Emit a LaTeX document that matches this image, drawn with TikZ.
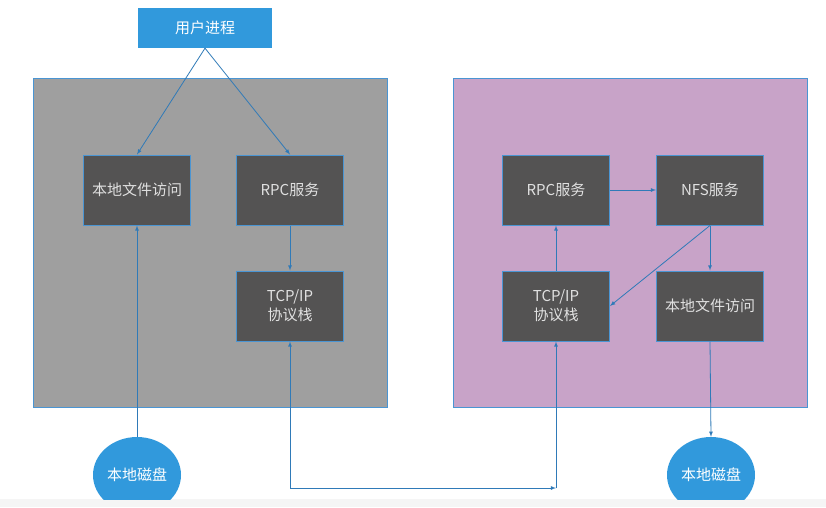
\documentclass[tikz,border=0pt]{standalone}
\usepackage{fontspec}
\setmainfont{Noto Sans CJK SC}
\usetikzlibrary{shapes.geometric}
\definecolor{procblue}{HTML}{3199DC}
\definecolor{panelgray}{HTML}{9F9F9F}
\definecolor{panelpink}{HTML}{C8A3C8}
\definecolor{boxdark}{HTML}{545353}
\definecolor{edgeblue}{HTML}{4A95D3}
\definecolor{arrowblue}{HTML}{2F7AB8}
\begin{document}
\begin{tikzpicture}[x=1pt,y=-1pt]

    \tikzset{
      modbox/.style={
        draw=edgeblue,
        fill=boxdark,
        line width=1,
        minimum width=107pt,
        minimum height=70pt,
        inner sep=0pt,
        align=center,
        text=black!12,
        font=\fontsize{15}{19}\selectfont,
      },
      disk/.style={
        ellipse,
        fill=procblue,
        minimum width=88pt,
        minimum height=76pt,
        inner sep=0pt,
        text=white,
        font=\fontsize{15}{19}\selectfont,
      },
      link/.style={
        color=arrowblue,
        line width=0.8,
        >=latex,
      },
    }
    \useasboundingbox (0,0) rectangle (826,507);

	\fill[white] (0,0) rectangle (826,507);
	\fill[black!4] (0,499) rectangle (826,507);
	\draw[fill=panelgray,draw=edgeblue,line width=1] (33,78) rectangle (387,407);
	\draw[fill=panelpink,draw=edgeblue,line width=1] (453,78) rectangle (807,407);

	\node[fill=procblue,minimum width=134pt,minimum height=40pt,inner sep=0pt,text=white,font=\fontsize{15}{19}\selectfont] (proc) at (205,28) {用户进程};

	\node[modbox] (localL) at (137,190) {本地文件访问};
	\node[modbox] (rpcL) at (290,190) {RPC服务};
	\node[modbox] (tcpL) at (290,306) {TCP/IP\\协议栈};

	\node[modbox] (rpcR) at (556,190) {RPC服务};
	\node[modbox] (nfsR) at (710,190) {NFS服务};
	\node[modbox] (tcpR) at (556,306) {TCP/IP\\协议栈};
	\node[modbox] (localR) at (710,306) {本地文件访问};

	\begin{scope}
	\clip (0,0) rectangle (826,499);
	\node[disk] (diskL) at (137,475) {本地磁盘};
	\node[disk] (diskR) at (711,475) {本地磁盘};
	\end{scope}

	\coordinate (turn) at (556,488);

	\draw[link,->] (proc.south) -- (localL.north);
	\draw[link,->] (proc.south) -- (rpcL.north);
	\draw[link,->] (rpcL) -- (tcpL);
	\draw[link,->] (diskL) -- (localL);
	\draw[link,<->] (tcpL.south) |- (turn);
	\draw[link,->] (turn) -- (tcpR.south);

	\draw[link,->] (tcpR) -- (rpcR);
	\draw[link,->] (rpcR) -- (nfsR);
	\draw[link,->] (nfsR.south) -- (tcpR.east);
	\draw[link,->] (nfsR) -- (localR);
	\draw[link,->] (localR.south) -- (diskR.north);

\end{tikzpicture}
\end{document}
